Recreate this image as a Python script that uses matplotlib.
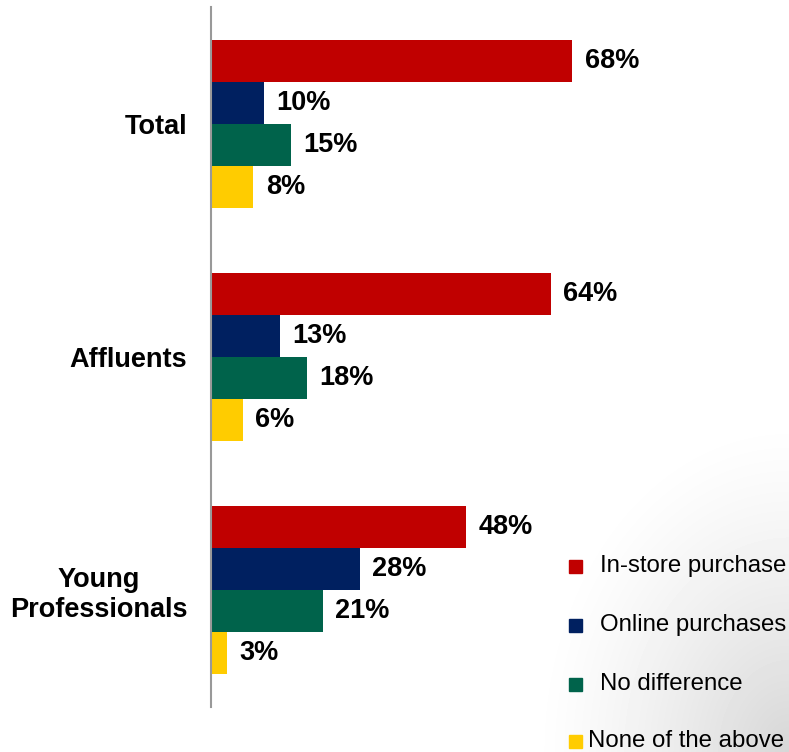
import numpy as np
import matplotlib.pyplot as plt
from matplotlib.patches import Rectangle

plt.rcParams['font.family'] = ['Liberation Sans', 'DejaVu Sans']

# data
groups = ['Total', 'Affluents', 'Young\nProfessionals']
series = ['In-store purchase', 'Online purchases', 'No difference', 'None of the above']
in_store = [68, 64, 48]
online = [10, 13, 28]
no_diff = [15, 18, 21]
none_above = [8, 6, 3]
colors = ['#C00000', '#002060', '#00634B', '#FFCC00']

W, H = 789, 752
fig = plt.figure(figsize=(W / 100, H / 100), dpi=100)

# soft grey glow in the lower right corner (slide background)
bg = fig.add_axes([0, 0, 1, 1], zorder=-10)
gx, gy = np.meshgrid(np.arange(W), np.arange(H))
dist = np.hypot((gx - W) / 1.0, (gy - H) / 1.3) / 260.0
shade = 1 - 0.16 * np.clip(1 - dist, 0, 1) ** 1.3
bg.imshow(shade, cmap='gray', vmin=0, vmax=1, aspect='auto')
bg.axis('off')

# axes placed in pixels: vertical line at x=211, from y=7 to y=707
ax = fig.add_axes([211 / W, (H - 707) / H, 531 / W, 700 / H])
ax.patch.set_alpha(0)

bar_h = 42 / 233.3
y = np.arange(len(groups))
values = [in_store, online, no_diff, none_above]
for i, (vals, col) in enumerate(zip(values, colors)):
    pos = y + (i - 1.5) * bar_h
    ax.barh(pos, vals, height=bar_h, color=col, edgecolor='none')
    for p, v in zip(pos, vals):
        ax.annotate(f'{v}%', (v, p), xytext=(9, 0), textcoords='offset points',
                    ha='left', va='center', fontsize=19.5, fontweight='bold')

ax.set_xlim(0, 100)
ax.set_ylim(2.5, -0.5)
ax.set_yticks(y)
ax.set_yticklabels(groups, fontsize=19.5, fontweight='bold', linespacing=1.2,
                   multialignment='center')
ax.tick_params(axis='y', length=0, pad=17)
ax.set_xticks([])
for s in ['top', 'right', 'bottom']:
    ax.spines[s].set_visible(False)
ax.spines['left'].set_color('#999999')
ax.spines['left'].set_linewidth(1.5)

# legend drawn by hand (positions in pixels)
leg_rows = [566, 625, 684, 741]
text_x = [600, 600, 600, 588]
for lab, col, yy, tx in zip(series, colors, leg_rows, text_x):
    fig.add_artist(Rectangle((569 / W, (H - yy - 6.5) / H), 13 / W, 13 / H,
                             transform=fig.transFigure, color=col))
    fig.text(tx / W, (H - yy) / H, lab, fontsize=17.3, ha='left', va='center')

fig.savefig('out.png', dpi=100)
